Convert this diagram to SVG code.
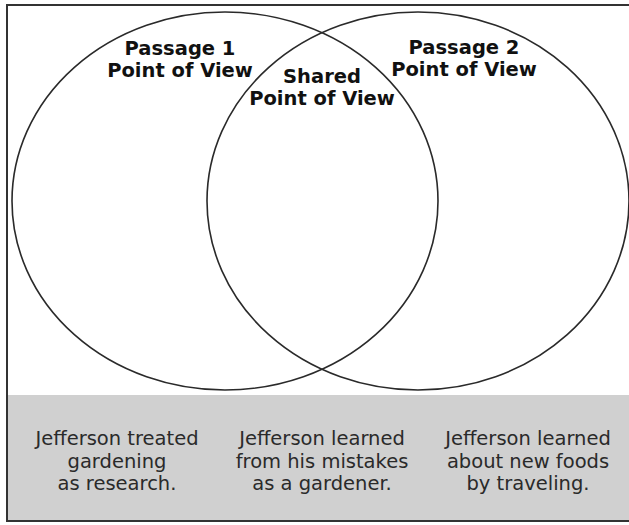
<svg xmlns="http://www.w3.org/2000/svg" width="629" height="525" viewBox="0 0 629 525">
<style>
.frame{fill:#ffffff;stroke:#333333;stroke-width:2}
.band{fill:#d0d0d0;stroke:none}
.circle{fill:none;stroke:#2a2a2a;stroke-width:1.6}
.title{font-family:"DejaVu Sans",Verdana,sans-serif;font-weight:bold;font-size:19.5px;fill:#111;text-anchor:middle}
.body{font-family:"DejaVu Sans",Verdana,sans-serif;font-size:19.5px;fill:#2a2a2a;text-anchor:middle}
</style>
<rect class="frame" x="7" y="5" width="630" height="516"/>
<rect class="band" x="8" y="395" width="621" height="125"/>
<g id="circle-passage1">
<ellipse class="circle" cx="225" cy="201" rx="213" ry="189"/>
<text class="title" x="180" y="55">Passage 1</text>
<text class="title" x="180" y="77">Point of View</text>
</g>
<g id="circle-passage2">
<ellipse class="circle" cx="418" cy="201" rx="211" ry="189"/>
<text class="title" x="464" y="54">Passage 2</text>
<text class="title" x="464" y="76">Point of View</text>
</g>
<g id="shared">
<text class="title" x="322" y="83">Shared</text>
<text class="title" x="322" y="105">Point of View</text>
</g>
<g id="statement1">
<text class="body" x="117" y="445">Jefferson treated</text>
<text class="body" x="117" y="467.5">gardening</text>
<text class="body" x="117" y="490">as research.</text>
</g>
<g id="statement2">
<text class="body" x="322" y="445">Jefferson learned</text>
<text class="body" x="322" y="467.5">from his mistakes</text>
<text class="body" x="322" y="490">as a gardener.</text>
</g>
<g id="statement3">
<text class="body" x="528" y="445">Jefferson learned</text>
<text class="body" x="528" y="467.5">about new foods</text>
<text class="body" x="528" y="490">by traveling.</text>
</g>
<g id="connectors"></g>
</svg>
